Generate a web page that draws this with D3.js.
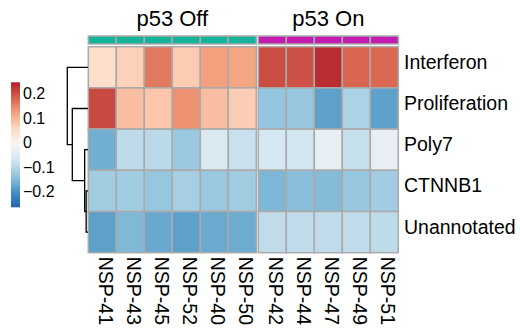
<!DOCTYPE html>
<html>
<head>
<meta charset="utf-8">
<script src="https://cdn.jsdelivr.net/npm/d3@7"></script>
<style>
  body { margin: 0; background: #fff; }
  text { font-family: "Liberation Sans", Arial, Helvetica, sans-serif; fill: #000; }
</style>
</head>
<body>
<svg id="chart" width="520" height="333"></svg>
<script>
// Signature scores per sample, split by p53 status
const signatures = ["Interferon", "Proliferation", "Poly7", "CTNNB1", "Unannotated"];
const groups = ["p53 Off", "p53 On"];
const offSamples = ["NSP-41", "NSP-43", "NSP-45", "NSP-52", "NSP-40", "NSP-50"];
const onSamples = ["NSP-42", "NSP-44", "NSP-47", "NSP-49", "NSP-51"];

// one array per signature: off samples first, then on samples
const interferon    = [0.048, 0.067, 0.158, 0.073, 0.122, 0.117,   0.200, 0.197, 0.231, 0.176, 0.174];
const proliferation = [0.204, 0.089, 0.079, 0.136, 0.089, 0.071,  -0.134, -0.132, -0.182, -0.111, -0.181];
const poly7         = [-0.165, -0.093, -0.097, -0.130, -0.057, -0.081, -0.067, -0.071, -0.037, -0.086, -0.037];
const ctnnb1        = [-0.122, -0.122, -0.132, -0.116, -0.130, -0.122, -0.155, -0.145, -0.149, -0.132, -0.122];
const unannotated   = [-0.182, -0.153, -0.172, -0.182, -0.171, -0.169, -0.091, -0.091, -0.091, -0.091, -0.093];
const rowValues = [interferon, proliferation, poly7, ctnnb1, unannotated];

// row clustering: merge heights of the hierarchical tree
const rowTree = {
  height: 0.62, children: [
    { name: "Interferon" },
    { height: 0.47, children: [
      { name: "Proliferation" },
      { height: 0.10, children: [
        { name: "Poly7" },
        { height: 0.055, children: [ { name: "CTNNB1" }, { name: "Unannotated" } ] }
      ] }
    ] }
  ]
};

// colour mapping (RdBu, 9 classes, interpolated in Lab space)
const colourBreaks = [-0.264, -0.2004, -0.1368, -0.0732, -0.0096, 0.054, 0.1176, 0.1812, 0.245];
const colourStops = ["#2166AC", "#4393C3", "#92C5DE", "#D1E5F0", "#F7F7F7", "#FDDBC7", "#F4A582", "#D6604D", "#B2182B"];
const legendTicks = [-0.2, -0.1, 0, 0.1, 0.2];
const groupColours = ["#14B49B", "#C41AAE"];

const svg = d3.select("#chart");
const color = d3.scaleLinear().domain(colourBreaks).range(colourStops).interpolate(d3.interpolateLab).clamp(true);

const gridTop = 46.7, gridBottom = 252.7;
const y = d3.scaleBand().domain(signatures).range([gridTop, gridBottom]);
const xOff = d3.scaleBand().domain(offSamples).range([88.3, 256.3]);
const xOn = d3.scaleBand().domain(onSamples).range([258.3, 398.3]);
const slices = [
  { title: groups[0], samples: offSamples, x: xOff, offset: 0, colour: groupColours[0] },
  { title: groups[1], samples: onSamples, x: xOn, offset: offSamples.length, colour: groupColours[1] }
];
const borderColour = "#aaaaaa";

slices.forEach(s => {
  const g = svg.append("g");
  // heatmap cells
  signatures.forEach((sig, r) => {
    g.selectAll(null)
      .data(s.samples)
      .join("rect")
      .attr("x", d => s.x(d))
      .attr("y", y(sig))
      .attr("width", s.x.bandwidth())
      .attr("height", y.bandwidth())
      .attr("fill", (d, i) => color(rowValues[r][s.offset + i]))
      .attr("stroke", borderColour)
      .attr("stroke-width", 1.5);
  });
  // group annotation strip
  g.selectAll(null)
    .data(s.samples)
    .join("rect")
    .attr("x", d => s.x(d))
    .attr("y", 36)
    .attr("width", s.x.bandwidth())
    .attr("height", 8)
    .attr("fill", s.colour)
    .attr("stroke", borderColour)
    .attr("stroke-width", 1.5);
  // slice title
  const [x0, x1] = s.x.range();
  g.append("text")
    .attr("x", (x0 + x1) / 2)
    .attr("y", 25.7)
    .attr("text-anchor", "middle")
    .attr("font-size", 22)
    .text(s.title);
  // sample labels, rotated
  g.selectAll(null)
    .data(s.samples)
    .join("text")
    .attr("transform", d => `translate(${s.x(d) + s.x.bandwidth() / 2 - 3},${gridBottom + 4}) rotate(90)`)
    .attr("font-size", 19.5)
    .text(d => d);
});

// signature labels
svg.append("g").selectAll("text")
  .data(signatures)
  .join("text")
  .attr("x", 404)
  .attr("y", d => y(d) + y.bandwidth() / 2 + 1.5)
  .attr("font-size", 19.5)
  .text(d => d);

// row dendrogram
const root = d3.hierarchy(rowTree);
const hx = d3.scaleLinear().domain([0, rowTree.height]).range([88, 67.3]);
root.eachAfter(n => {
  n.h = n.children ? n.data.height : 0;
  n.ypos = n.children ? d3.mean(n.children, c => c.ypos) : y(n.data.name) + y.bandwidth() / 2;
});
const dg = svg.append("g").attr("fill", "none").attr("stroke", "#000").attr("stroke-width", 1.3);
root.each(n => {
  if (!n.children) return;
  const [a, b] = n.children;
  dg.append("path").attr("d",
    `M${hx(a.h)},${a.ypos}H${hx(n.h)}V${b.ypos}H${hx(b.h)}`);
});

// colour legend
const ly = d3.scaleLinear().domain([colourBreaks[0], colourBreaks[colourBreaks.length - 1]]).range([207.3, 82.3]);
const grad = svg.append("defs").append("linearGradient")
  .attr("id", "legendGrad").attr("x1", 0).attr("y1", 1).attr("x2", 0).attr("y2", 0);
d3.range(0, 1.0001, 0.02).forEach(t => {
  const v = ly.domain()[0] + t * (ly.domain()[1] - ly.domain()[0]);
  grad.append("stop").attr("offset", t).attr("stop-color", color(v));
});
svg.append("rect")
  .attr("x", 11).attr("y", ly.range()[1])
  .attr("width", 9).attr("height", ly.range()[0] - ly.range()[1])
  .attr("fill", "url(#legendGrad)");
const fmt = v => v === 0 ? "0" : d3.format(".1f")(v);
svg.append("g").selectAll("text")
  .data(legendTicks)
  .join("text")
  .attr("x", 23)
  .attr("y", d => ly(d) + 5.7)
  .attr("font-size", 16)
  .text(fmt);
</script>
</body>
</html>
